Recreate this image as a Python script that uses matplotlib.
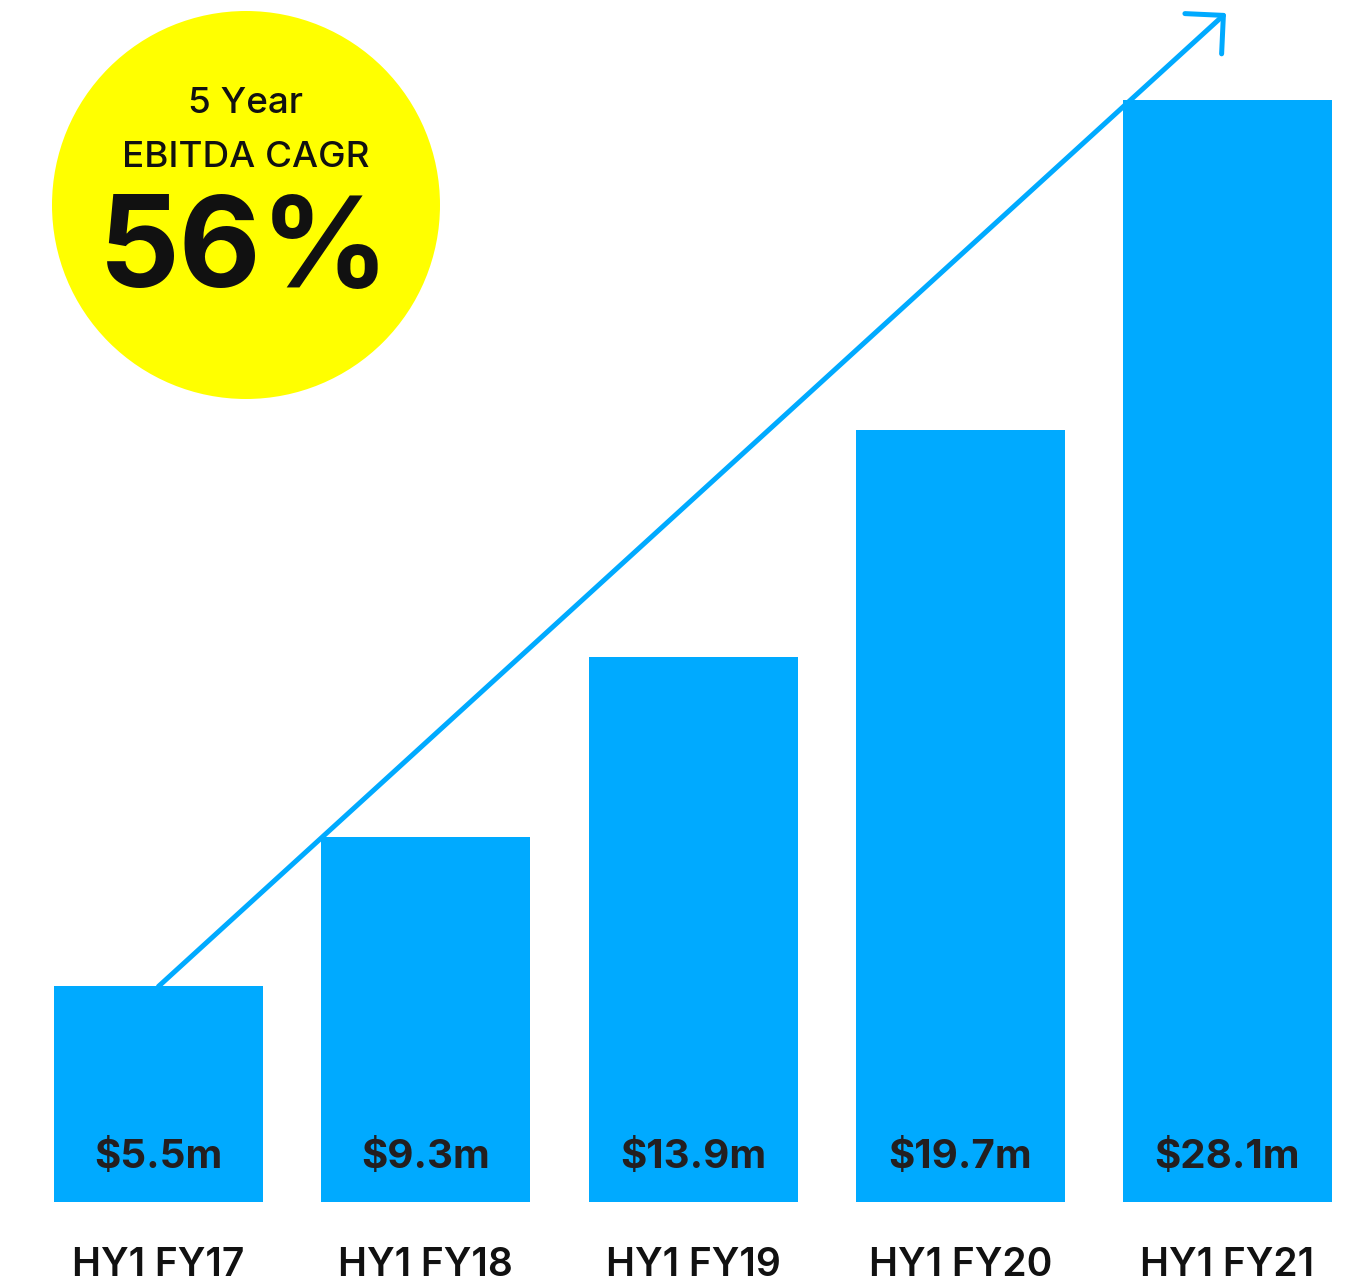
import matplotlib
matplotlib.use("Agg")
import matplotlib.pyplot as plt
from matplotlib.patches import Ellipse

categories = ["HY1 FY17", "HY1 FY18", "HY1 FY19", "HY1 FY20", "HY1 FY21"]
ebitda = [5.5, 9.3, 13.9, 19.7, 28.1]
value_labels = ["$5.5m", "$9.3m", "$13.9m", "$19.7m", "$28.1m"]
cagr_title_lines = ["5 Year", "EBITDA CAGR"]
cagr_value = "56%"

W, H = 1362, 1286
fig = plt.figure(figsize=(W / 100, H / 100), dpi=100)
ax = fig.add_axes([0, 0, 1, 1])

px_x = 267.25   # pixels per category step
px_y = 39.2     # pixels per $m
x0 = 158.5      # pixel centre of first bar
base = 84       # pixel offset of bar bottom from figure bottom
ax.set_xlim(-x0 / px_x, (W - x0) / px_x)
ax.set_ylim(-base / px_y, (H - base) / px_y)
ax.axis("off")


def px2data(px, py):
    return (px - x0) / px_x, (H - py - base) / px_y


blue = "#00AAFF"
xs = list(range(len(categories)))
ax.bar(xs, ebitda, width=209 / px_x, color=blue, zorder=2)

val_y = px2data(0, 1168)[1]
for x, lab in zip(xs, value_labels):
    ax.text(x, val_y, lab, ha="center", va="baseline", fontsize=29,
            fontweight="bold", color="#231F20", family="Inter", zorder=3)
cat_y = px2data(0, 1276)[1]
for x, lab in zip(xs, categories):
    ax.text(x, cat_y, lab, ha="center", va="baseline", fontsize=28,
            fontweight="semibold", color="#111111", family="Inter", zorder=3)

# arrow
start = (0.0, ebitda[0])
end = px2data(1226, 13)
ax.annotate("", xy=end, xytext=start,
            arrowprops=dict(arrowstyle="->,head_length=1.4,head_width=1.4",
                            mutation_scale=14, color=blue, lw=3.6,
                            shrinkA=0, shrinkB=0), zorder=4)

# yellow badge
cx, cy = px2data(246, 205)
r = 194
ax.add_patch(Ellipse((cx, cy), 2 * r / px_x, 2 * r / px_y, color="#FFFF00",
                     zorder=5, lw=0))
for line, py in zip(cagr_title_lines, [113, 167]):
    tx, ty = px2data(246, py)
    ax.text(tx, ty, line, ha="center", va="baseline", fontsize=26.5,
            family="Inter", fontweight="medium", color="#111111", zorder=6)
tx, ty = px2data(244, 287)
ax.text(tx, ty, cagr_value, ha="center", va="baseline", fontsize=91,
        fontweight="bold", family="Inter", color="#111111", zorder=6)

fig.savefig("out.png", dpi=100)
